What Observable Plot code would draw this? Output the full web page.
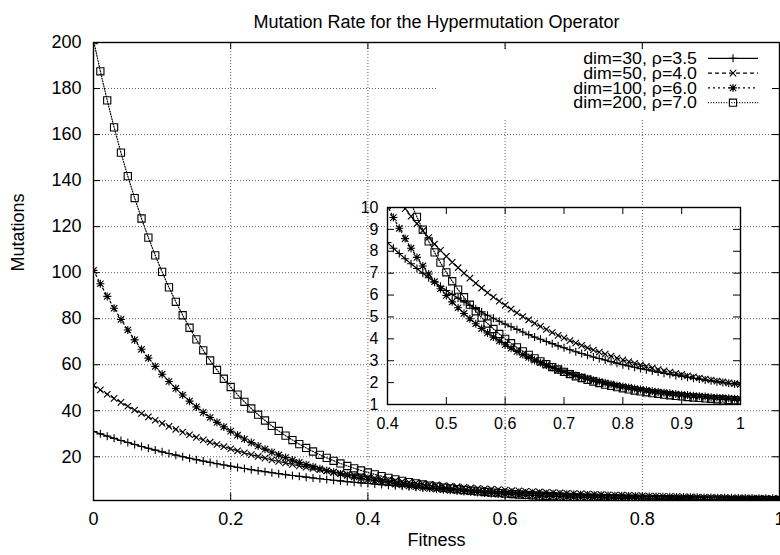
<!DOCTYPE html>
<html><head><meta charset="utf-8">
<script src="https://cdn.jsdelivr.net/npm/d3@7"></script>
<script src="https://cdn.jsdelivr.net/npm/@observablehq/plot@0.6"></script>
<style>
body{margin:0;background:#fff;}
#wrap{position:relative;width:780px;height:555px;overflow:hidden;background:#fff;font-family:"Liberation Sans",Arial,sans-serif;}
#wrap svg{position:absolute;}
</style></head><body><div id="wrap"></div>
<script>
const fitness = [0,0.01,0.02,0.03,0.04,0.05,0.06,0.07,0.08,0.09,
0.1,0.11,0.12,0.13,0.14,0.15,0.16,0.17,0.18,0.19,
0.2,0.21,0.22,0.23,0.24,0.25,0.26,0.27,0.28,0.29,
0.3,0.31,0.32,0.33,0.34,0.35,0.36,0.37,0.38,0.39,
0.4,0.41,0.42,0.43,0.44,0.45,0.46,0.47,0.48,0.49,
0.5,0.51,0.52,0.53,0.54,0.55,0.56,0.57,0.58,0.59,
0.6,0.61,0.62,0.63,0.64,0.65,0.66,0.67,0.68,0.69,
0.7,0.71,0.72,0.73,0.74,0.75,0.76,0.77,0.78,0.79,
0.8,0.81,0.82,0.83,0.84,0.85,0.86,0.87,0.88,0.89,
0.9,0.91,0.92,0.93,0.94,0.95,0.96,0.97,0.98,0.99,1];

const dim30 = [31,29.97,28.97,28.01,27.08,26.18,25.32,24.48,23.67,22.89,
22.14,21.41,20.71,20.03,19.38,18.75,18.14,17.55,16.98,16.43,
15.90,15.39,14.89,14.41,13.95,13.51,13.08,12.66,12.26,11.87,
11.50,11.14,10.79,10.45,10.13,9.81,9.51,9.22,8.93,8.66,
8.40,8.14,7.90,7.66,7.43,7.21,7.00,6.79,6.59,6.40,
6.21,6.03,5.86,5.69,5.53,5.38,5.23,5.08,4.94,4.80,
4.67,4.55,4.43,4.31,4.19,4.08,3.98,3.88,3.78,3.68,
3.59,3.50,3.41,3.33,3.25,3.17,3.10,3.03,2.96,2.89,
2.82,2.76,2.70,2.64,2.59,2.53,2.48,2.43,2.38,2.33,
2.29,2.24,2.20,2.16,2.12,2.08,2.04,2.01,1.97,1.94,1.91];

const dim50 = [51,49.04,47.16,45.35,43.61,41.94,40.33,38.79,37.31,35.88,
34.52,33.20,31.94,30.73,29.56,28.44,27.36,26.33,25.34,24.38,
23.47,22.59,21.74,20.93,20.14,19.39,18.67,17.98,17.31,16.67,
16.06,15.47,14.90,14.36,13.83,13.33,12.85,12.38,11.94,11.51,
11.09,10.70,10.32,9.95,9.60,9.26,8.94,8.63,8.33,8.04,
7.77,7.50,7.25,7.00,6.77,6.54,6.32,6.11,5.91,5.72,
5.54,5.36,5.19,5.02,4.87,4.71,4.57,4.43,4.29,4.16,
4.04,3.92,3.81,3.70,3.59,3.49,3.39,3.30,3.21,3.12,
3.04,2.96,2.88,2.81,2.74,2.67,2.60,2.54,2.48,2.42,
2.37,2.31,2.26,2.21,2.16,2.12,2.07,2.03,1.99,1.95,1.92];

const dim100 = [101,95.18,89.69,84.53,79.66,75.08,70.77,66.70,62.88,59.27,
55.88,52.69,49.68,46.84,44.17,41.66,39.29,37.06,34.96,32.98,
31.12,29.37,27.71,26.16,24.69,23.31,22.01,20.79,19.64,18.55,
17.53,16.57,15.66,14.81,14.00,13.25,12.53,11.86,11.23,10.63,
10.07,9.54,9.05,8.58,8.14,7.72,7.33,6.96,6.61,6.29,
5.98,5.69,5.42,5.16,4.92,4.69,4.47,4.27,4.08,3.90,
3.73,3.57,3.42,3.28,3.15,3.02,2.91,2.80,2.69,2.59,
2.50,2.41,2.33,2.25,2.18,2.11,2.05,1.99,1.93,1.87,
1.82,1.78,1.73,1.69,1.65,1.61,1.57,1.54,1.51,1.48,
1.45,1.43,1.40,1.38,1.36,1.33,1.32,1.30,1.28,1.26,1.25];

const dim200 = [201,187.48,174.87,163.12,152.16,141.94,132.41,123.53,115.24,107.52,
100.32,93.60,87.34,81.50,76.06,70.99,66.26,61.84,57.73,53.90,
50.32,46.99,43.88,40.98,38.27,35.75,33.41,31.21,29.17,27.27,
25.49,23.84,22.29,20.85,19.51,18.26,17.09,16.00,14.99,14.04,
13.16,12.34,11.57,10.86,10.19,9.57,8.99,8.45,7.95,7.48,
7.04,6.63,6.25,5.90,5.56,5.26,4.97,4.70,4.45,4.22,
4.00,3.80,3.61,3.43,3.27,3.11,2.97,2.84,2.71,2.60,
2.49,2.39,2.29,2.21,2.13,2.05,1.98,1.91,1.85,1.79,
1.74,1.69,1.64,1.60,1.56,1.52,1.49,1.45,1.42,1.39,
1.37,1.34,1.32,1.30,1.28,1.26,1.24,1.23,1.21,1.20,1.18];

const seriesNames = ["dim=30, \u03c1=3.5", "dim=50, \u03c1=4.0", "dim=100, \u03c1=6.0", "dim=200, \u03c1=7.0"];
const xTicks = [0, 0.2, 0.4, 0.6, 0.8, 1];
const yTicks = [20, 40, 60, 80, 100, 120, 140, 160, 180, 200];
const insetXTicks = [0.4, 0.5, 0.6, 0.7, 0.8, 0.9, 1];
const insetYTicks = [1, 2, 3, 4, 5, 6, 7, 8, 9, 10];
const titleText = "Mutation Rate for the Hypermutation Operator";
const xLabel = "Fitness";
const yLabel = "Mutations";

// marker shapes (gnuplot point types)
const symPlus = {draw(c, s) {const r = Math.sqrt(s / Math.PI); c.moveTo(-r, 0); c.lineTo(r, 0); c.moveTo(0, -r); c.lineTo(0, r);}};
const symTimes = {draw(c, s) {const r = Math.sqrt(s / Math.PI) * 0.8; c.moveTo(-r, -r); c.lineTo(r, r); c.moveTo(-r, r); c.lineTo(r, -r);}};
const symStar = {draw(c, s) {const r = Math.sqrt(s / Math.PI); const q = r * 0.8; c.moveTo(-r, 0); c.lineTo(r, 0); c.moveTo(0, -r); c.lineTo(0, r); c.moveTo(-q, -q); c.lineTo(q, q); c.moveTo(-q, q); c.lineTo(q, -q);}};
const symSquare = {draw(c, s) {const r = Math.sqrt(s / Math.PI) * 0.9; c.moveTo(-r, -r); c.lineTo(r, -r); c.lineTo(r, r); c.lineTo(-r, r); c.closePath();}};

const series = [
  {name: seriesNames[0], values: dim30, dash: null, symbol: symPlus},
  {name: seriesNames[1], values: dim50, dash: "4,3", symbol: symTimes},
  {name: seriesNames[2], values: dim100, dash: "2,3", symbol: symStar},
  {name: seriesNames[3], values: dim200, dash: "1,1.6", symbol: symSquare}
];
const tables = series.map(s => fitness.map((f, i) => ({f, v: s.values[i]})));

const FONT = "'Liberation Sans', Arial, Helvetica, sans-serif";
const wrap = document.getElementById("wrap");

function seriesMarks() {
  const m = [];
  series.forEach((s, k) => {
    m.push(Plot.line(tables[k], {x: "f", y: "v", stroke: "#000", strokeWidth: 1.2, strokeDasharray: s.dash, clip: true}));
    m.push(Plot.dot(tables[k], {x: "f", y: "v", symbol: s.symbol, r: 4, fill: "none", stroke: "#000", strokeWidth: 1.1, clip: true}));
  });
  return m;
}

// ---- main chart
const W = 780, H = 555, mL = 93, mR = 1, mT = 42, mB = 55;
const iW = W - mL - mR, iH = H - mT - mB, TK = 7;
const gridStyle = {stroke: "#000", strokeWidth: 0.8, strokeDasharray: "1,2", strokeOpacity: 0.8};
const main = Plot.plot({
  width: W, height: H, marginLeft: mL, marginRight: mR, marginTop: mT, marginBottom: mB,
  style: {fontFamily: FONT, fontSize: "18px", background: "transparent", color: "#000", overflow: "visible"},
  x: {domain: [0, 1], ticks: xTicks, tickSize: 0, tickPadding: 12, tickFormat: d => String(d), label: null},
  y: {domain: [1, 200], ticks: yTicks, tickSize: 0, tickPadding: 12, tickFormat: d => String(d), label: null},
  marks: [
    Plot.ruleX(xTicks.slice(1, -1), gridStyle),
    Plot.ruleY(yTicks.slice(0, -1), gridStyle),
    Plot.ruleX(xTicks, {stroke: "#000", insetTop: iH - TK}),
    Plot.ruleX(xTicks, {stroke: "#000", insetBottom: iH - TK}),
    Plot.ruleY(yTicks, {stroke: "#000", insetRight: iW - TK}),
    Plot.ruleY(yTicks, {stroke: "#000", insetLeft: iW - TK}),
    Plot.frame({stroke: "#000", strokeWidth: 1.4}),
    ...seriesMarks(),
    Plot.text([titleText], {frameAnchor: "top", dy: -27, fontSize: 18}),
    Plot.text([xLabel], {frameAnchor: "bottom", dy: 45, fontSize: 18}),
    Plot.text([yLabel], {frameAnchor: "left", dx: -75, rotate: -90, fontSize: 18})
  ]
});
main.style.left = "0px"; main.style.top = "0px";
wrap.appendChild(main);

// ---- legend (key box blanks the grid behind it)
const LX = 438, LY = 49, LW = 334, LH = 71;
const leg = d3.select(wrap).append("svg").attr("width", LW).attr("height", LH)
  .style("left", LX + "px").style("top", LY + "px");
leg.append("rect").attr("width", LW).attr("height", LH).attr("fill", "#fff");
series.forEach((s, i) => {
  const y = 9.3 + 14.8 * i;
  const t = leg.append("text").attr("x", 697 - LX).attr("y", y).attr("dy", "0.36em")
    .attr("text-anchor", "end").attr("font-family", FONT).attr("font-size", 16).attr("fill", "#000").text(s.name);
  const len = t.node().getComputedTextLength();
  if (len > 0) t.attr("textLength", len * 1.11).attr("lengthAdjust", "spacingAndGlyphs");
  leg.append("line").attr("x1", 708 - LX).attr("x2", 758 - LX).attr("y1", y).attr("y2", y)
    .attr("stroke", "#000").attr("stroke-width", 1.2).attr("stroke-dasharray", s.dash);
  leg.append("path").attr("transform", `translate(${733 - LX},${y})`)
    .attr("d", d3.symbol(s.symbol, Math.PI * 16)()).attr("fill", "none").attr("stroke", "#000").attr("stroke-width", 1.1);
});

// ---- inset
const IW = 420, IH = 240, imL = 47, imR = 20, imT = 17, imB = 26;
const iiW = IW - imL - imR, iiH = IH - imT - imB;
const inset = Plot.plot({
  width: IW, height: IH, marginLeft: imL, marginRight: imR, marginTop: imT, marginBottom: imB,
  style: {fontFamily: FONT, fontSize: "16px", background: "transparent", color: "#000", overflow: "visible"},
  x: {domain: [0.4, 1], ticks: insetXTicks, tickSize: 0, tickPadding: 13, tickFormat: d => String(d), label: null},
  y: {domain: [1, 10], ticks: insetYTicks, tickSize: 0, tickPadding: 9, tickFormat: d => String(d), label: null},
  marks: [
    Plot.ruleX(insetXTicks, {stroke: "#000", insetTop: iiH - TK}),
    Plot.ruleX(insetXTicks, {stroke: "#000", insetBottom: iiH - TK}),
    Plot.ruleY(insetYTicks, {stroke: "#000", insetRight: iiW - TK}),
    Plot.ruleY(insetYTicks, {stroke: "#000", insetLeft: iiW - TK}),
    Plot.frame({stroke: "#000", strokeWidth: 1.4}),
    ...seriesMarks()
  ]
});
inset.style.left = "340px"; inset.style.top = "190px";
wrap.appendChild(inset);
</script></body></html>
